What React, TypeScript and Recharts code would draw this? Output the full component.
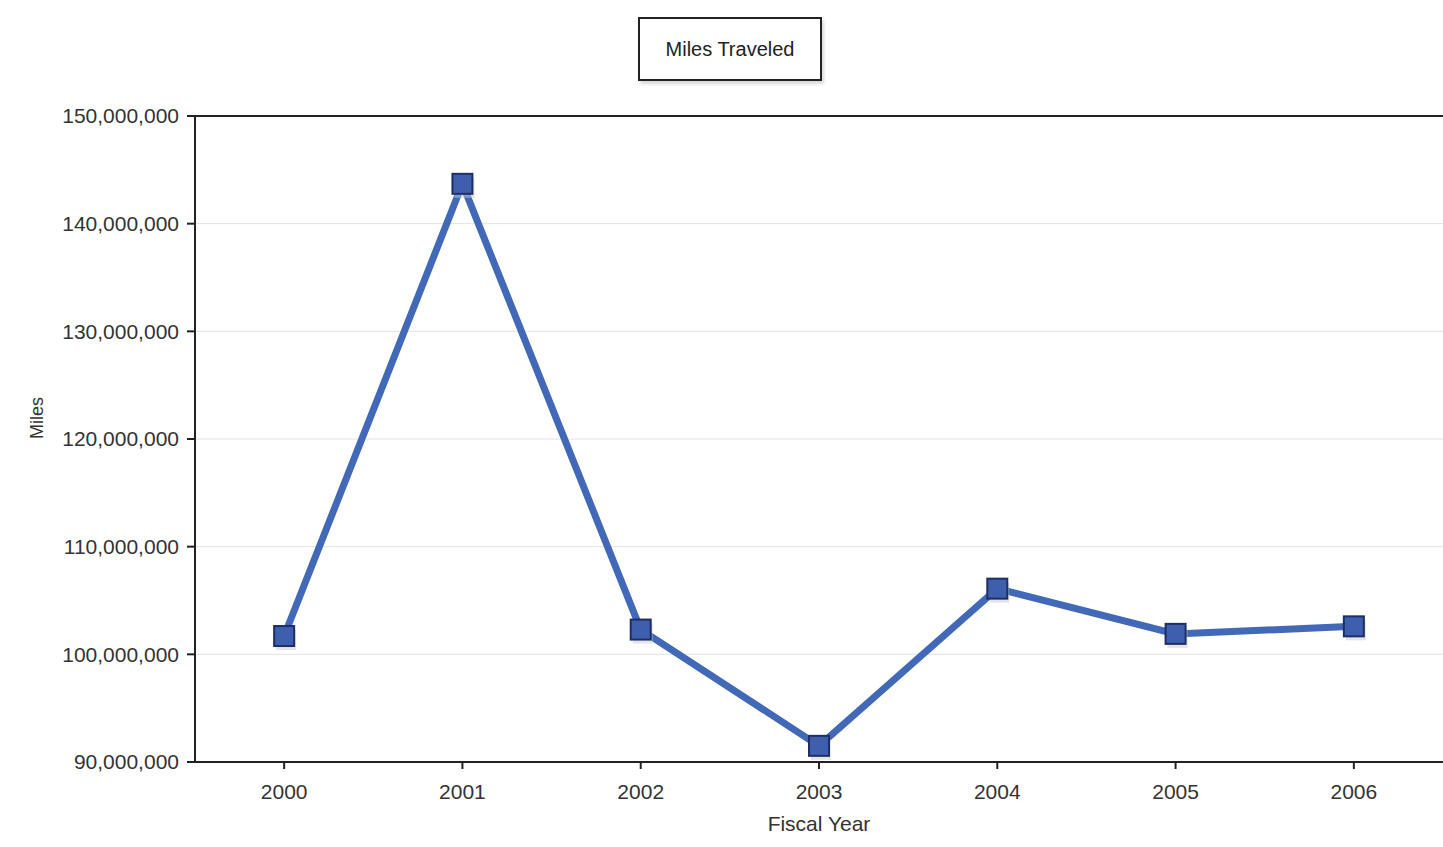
import { LineChart, Line, XAxis, YAxis, CartesianGrid, ReferenceLine } from "recharts";

const years = ["2000", "2001", "2002", "2003", "2004", "2005", "2006"];
const miles = [101700000, 143700000, 102300000, 91500000, 106100000, 101900000, 102600000];
const yTicks = [90000000, 100000000, 110000000, 120000000, 130000000, 140000000, 150000000];

const data = years.map((year, i) => ({ year, miles: miles[i] }));

const FONT = "'Liberation Sans', Arial, sans-serif";

const SquareDot = (props: any) => {
  const { cx, cy } = props;
  if (cx == null || cy == null) return null;
  return (
    <g>
      <rect x={cx - 8} y={cy - 6} width={20} height={20} fill="#c8cbd3" opacity={0.5} />
      <rect x={cx - 10} y={cy - 10} width={20} height={20} fill="#3d5fae" stroke="#1f2f66" strokeWidth={2} />
    </g>
  );
};

const fmt = (v: number) => v.toLocaleString("en-US");

export default function App() {
  return (
    <div style={{ position: "absolute", left: 0, top: 0, width: 1443, height: 847, background: "#fff", fontFamily: FONT }}>
      <div
        style={{
          position: "absolute",
          left: 638,
          top: 17,
          width: 180,
          height: 60,
          border: "2px solid #222",
          boxShadow: "2px 3px 3px rgba(0,0,0,0.15)",
          display: "flex",
          alignItems: "center",
          justifyContent: "center",
          fontSize: 20,
          color: "#222",
          background: "#fff",
          zIndex: 2,
        }}
      >
        Miles Traveled
      </div>
      <LineChart width={1443} height={847} data={data} margin={{ top: 116, right: 0, bottom: 0, left: 0 }}>
        <CartesianGrid vertical={false} stroke="#e2e2e2" />
        <XAxis
          dataKey="year"
          scale="band"
          height={85}
          axisLine={{ stroke: "#222", strokeWidth: 2 }}
          tickLine={{ stroke: "#222", strokeWidth: 2 }}
          tickSize={7}
          tick={{ fill: "#333", fontSize: 21, fontFamily: FONT, dy: 13 }}
          label={{ value: "Fiscal Year", position: "insideBottom", offset: 16, fill: "#333", fontSize: 21, fontFamily: FONT }}
        />
        <YAxis
          domain={[90000000, 150000000]}
          ticks={yTicks}
          tickFormatter={fmt}
          width={195}
          axisLine={{ stroke: "#222", strokeWidth: 2 }}
          tickLine={{ stroke: "#222", strokeWidth: 2 }}
          tickSize={8}
          tick={{ fill: "#333", fontSize: 21, fontFamily: FONT, dx: -6 }}
          label={{ value: "Miles", angle: -90, position: "insideLeft", offset: 37, fill: "#333", fontSize: 18, fontFamily: FONT }}
        />
        <ReferenceLine y={150000000} stroke="#222" strokeWidth={2} />
        <Line
          type="linear"
          dataKey="miles"
          stroke="#4169b8"
          strokeWidth={7}
          dot={<SquareDot />}
          activeDot={false}
          isAnimationActive={false}
        />
      </LineChart>
    </div>
  );
}
